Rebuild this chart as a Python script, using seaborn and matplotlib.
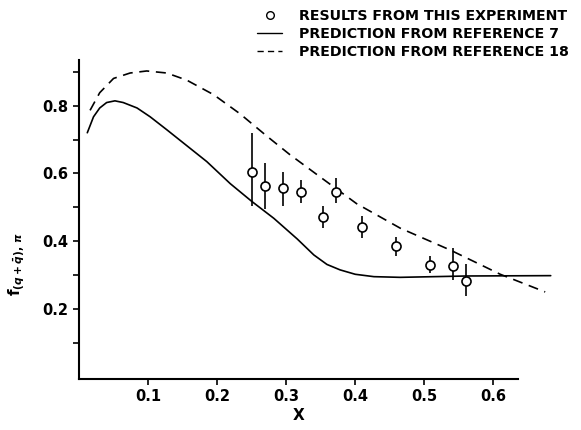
import numpy as np
import pandas as pd
import matplotlib
matplotlib.use('Agg')
import matplotlib.pyplot as plt
import seaborn as sns
from matplotlib.lines import Line2D

# measured points (this experiment)
x_exp = [0.251, 0.270, 0.295, 0.322, 0.353, 0.372, 0.410, 0.459, 0.508, 0.541, 0.560]
y_exp = [0.605, 0.563, 0.558, 0.544, 0.471, 0.544, 0.441, 0.385, 0.329, 0.328, 0.284]
y_lo = [0.505, 0.494, 0.505, 0.514, 0.439, 0.514, 0.411, 0.356, 0.307, 0.286, 0.238]
y_hi = [0.720, 0.632, 0.605, 0.580, 0.504, 0.586, 0.474, 0.414, 0.357, 0.379, 0.334]

# prediction from reference 7 (solid)
x_ref7 = [0.012, 0.021, 0.030, 0.040, 0.052, 0.064, 0.084, 0.103, 0.127, 0.156,
          0.185, 0.219, 0.250, 0.282, 0.316, 0.340, 0.359, 0.378, 0.400, 0.427,
          0.465, 0.562, 0.683]
y_ref7 = [0.720, 0.767, 0.793, 0.809, 0.814, 0.809, 0.793, 0.767, 0.729, 0.682,
          0.635, 0.570, 0.518, 0.468, 0.407, 0.360, 0.332, 0.316, 0.303, 0.296,
          0.294, 0.298, 0.299]

# prediction from reference 18 (dashed)
x_ref18 = [0.016, 0.030, 0.050, 0.074, 0.098, 0.127, 0.156, 0.195, 0.233, 0.272,
           0.305, 0.349, 0.402, 0.465, 0.538, 0.610, 0.675]
y_ref18 = [0.786, 0.838, 0.880, 0.896, 0.902, 0.896, 0.875, 0.832, 0.776, 0.710,
           0.656, 0.590, 0.511, 0.439, 0.374, 0.303, 0.251]

sns.set_style('ticks')
plt.rcParams['font.family'] = ['DejaVu Sans']
plt.rcParams['font.weight'] = 'bold'
plt.rcParams['text.color'] = 'black'
plt.rcParams['axes.labelcolor'] = 'black'

fig = plt.figure(figsize=(5.81, 4.30), dpi=100)
ax = fig.add_axes([0.136, 0.119, 0.756, 0.742])

ref7 = pd.DataFrame({'x': x_ref7, 'y': y_ref7})
ref18 = pd.DataFrame({'x': x_ref18, 'y': y_ref18})
sns.lineplot(data=ref7, x='x', y='y', ax=ax, color='black', lw=1.2,
             estimator=None, sort=False, clip_on=False)
sns.lineplot(data=ref18, x='x', y='y', ax=ax, color='black', lw=1.2,
             estimator=None, sort=False, clip_on=False, linestyle=(0, (6, 4)))

yerr = [np.array(y_exp) - np.array(y_lo), np.array(y_hi) - np.array(y_exp)]
ax.errorbar(x_exp, y_exp, yerr=yerr, fmt='o', ms=6.5, mfc='white', mec='black',
            mew=1.2, ecolor='black', elinewidth=1.2, capsize=0, zorder=5)

ax.set_xlim(0, 0.636)
ax.set_ylim(-0.005, 0.935)
ax.set_xticks([0.1, 0.2, 0.3, 0.4, 0.5, 0.6])
ax.set_xticklabels(['0.1', '0.2', '0.3', '0.4', '0.5', '0.6'])
ax.set_yticks([0.2, 0.4, 0.6, 0.8])
ax.set_yticklabels(['0.2', '0.4', '0.6', '0.8'])
ax.set_yticks([0.1, 0.3, 0.5, 0.7, 0.9], minor=True)
ax.tick_params(axis='both', which='both', direction='out', length=4, width=1.2,
               labelsize=10.5, color='black', labelcolor='black')
sns.despine(ax=ax)
for s in ['left', 'bottom']:
    ax.spines[s].set_linewidth(1.5)
    ax.spines[s].set_color('black')

ax.set_xlabel('X', fontsize=11, fontweight='bold', labelpad=3)
ax.set_ylabel(r'$\mathbf{f}_{(q+\bar{q}),\,\pi}$', fontsize=11, rotation=90,
              va='center', ha='center')
ax.yaxis.set_label_coords(-0.143, 0.36)

handles = [
    Line2D([], [], marker='o', ls='none', ms=5.5, mfc='white', mec='black', mew=1.0),
    Line2D([], [], color='black', lw=1.0),
    Line2D([], [], color='black', lw=1.0, linestyle=(0, (4.5, 3))),
]
labels = ['RESULTS FROM THIS EXPERIMENT', 'PREDICTION FROM REFERENCE 7',
          'PREDICTION FROM REFERENCE 18']
fig.legend(handles, labels, loc='upper left', bbox_to_anchor=(0.430, 0.995),
           frameon=False, handlelength=1.8, handletextpad=1.2, borderpad=0,
           labelspacing=0.26, prop={'weight': 'bold', 'size': 10.2})

fig.savefig('out.png', dpi=100)
